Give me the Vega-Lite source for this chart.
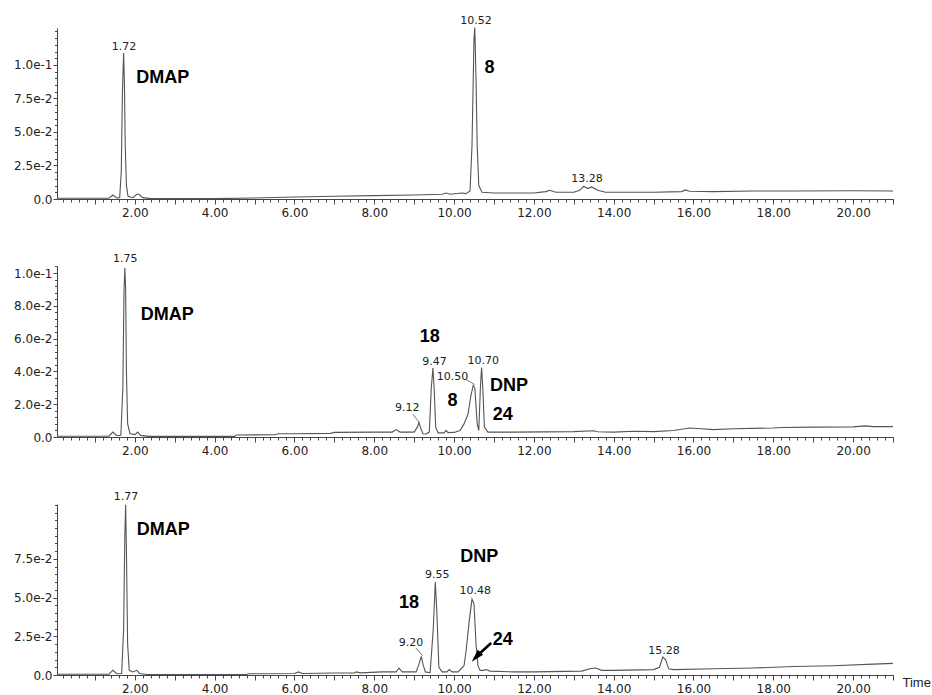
{
  "$schema": "https://vega.github.io/schema/vega-lite/v6.json",
  "background": "white",
  "padding": {"left": 13, "top": 15, "right": 0, "bottom": 2},
  "config": {
    "view": {"stroke": null},
    "axis": {"labelFont": "DejaVu Sans", "labelFontSize": 12, "labelColor": "#222", "domainColor": "#444", "tickColor": "#444", "grid": false, "title": null, "labelOverlap": false, "labelFlush": false, "domainWidth": 1, "tickWidth": 1}
  },
  "spacing": 67,
  "bounds": "flush",
  "datasets": {
    "p1": [
      {"t":0.05,"v":0.0006},{"t":1.0,"v":0.0006},{"t":1.35,"v":0.0006},{"t":1.45,"v":0.003},{"t":1.55,"v":0.0008},{"t":1.62,"v":0.001},{"t":1.66,"v":0.02},{"t":1.69,"v":0.08},{"t":1.72,"v":0.109},{"t":1.74,"v":0.085},{"t":1.76,"v":0.04},{"t":1.79,"v":0.01},{"t":1.83,"v":0.002},{"t":1.95,"v":0.001},{"t":2.05,"v":0.0035},{"t":2.1,"v":0.0035},{"t":2.2,"v":0.001},{"t":2.4,"v":0.0003},{"t":4.0,"v":0.0003},{"t":5.0,"v":0.0008},{"t":6.0,"v":0.0015},{"t":7.0,"v":0.002},{"t":8.0,"v":0.0025},{"t":9.0,"v":0.003},{"t":9.7,"v":0.0035},{"t":9.8,"v":0.0045},{"t":9.9,"v":0.0035},{"t":10.2,"v":0.0045},{"t":10.3,"v":0.004},{"t":10.4,"v":0.006},{"t":10.45,"v":0.04},{"t":10.5,"v":0.12},{"t":10.52,"v":0.128},{"t":10.55,"v":0.09},{"t":10.58,"v":0.04},{"t":10.62,"v":0.01},{"t":10.7,"v":0.005},{"t":11.0,"v":0.0045},{"t":12.0,"v":0.0045},{"t":12.3,"v":0.0055},{"t":12.4,"v":0.0065},{"t":12.55,"v":0.005},{"t":13.0,"v":0.005},{"t":13.15,"v":0.0065},{"t":13.25,"v":0.0095},{"t":13.35,"v":0.0078},{"t":13.45,"v":0.009},{"t":13.6,"v":0.0065},{"t":13.8,"v":0.005},{"t":15.0,"v":0.005},{"t":15.7,"v":0.0055},{"t":15.8,"v":0.0068},{"t":15.9,"v":0.0058},{"t":16.5,"v":0.0055},{"t":17.5,"v":0.006},{"t":18.5,"v":0.006},{"t":20.0,"v":0.0062},{"t":21.0,"v":0.006}
    ],
    "p2": [
      {"t":0.05,"v":0.0005},{"t":1.35,"v":0.0005},{"t":1.45,"v":0.003},{"t":1.55,"v":0.0008},{"t":1.65,"v":0.001},{"t":1.7,"v":0.03},{"t":1.73,"v":0.09},{"t":1.75,"v":0.103},{"t":1.77,"v":0.09},{"t":1.79,"v":0.04},{"t":1.82,"v":0.008},{"t":1.88,"v":0.002},{"t":2.0,"v":0.0015},{"t":2.07,"v":0.003},{"t":2.15,"v":0.001},{"t":2.35,"v":0.0004},{"t":4.5,"v":0.0004},{"t":4.55,"v":0.0012},{"t":5.5,"v":0.0014},{"t":5.6,"v":0.002},{"t":6.0,"v":0.002},{"t":6.9,"v":0.0022},{"t":7.0,"v":0.0028},{"t":8.0,"v":0.003},{"t":8.45,"v":0.003},{"t":8.55,"v":0.0045},{"t":8.65,"v":0.003},{"t":9.0,"v":0.003},{"t":9.08,"v":0.006},{"t":9.12,"v":0.0088},{"t":9.17,"v":0.005},{"t":9.22,"v":0.002},{"t":9.3,"v":0.0018},{"t":9.38,"v":0.003},{"t":9.43,"v":0.03},{"t":9.47,"v":0.042},{"t":9.5,"v":0.03},{"t":9.54,"v":0.006},{"t":9.6,"v":0.0025},{"t":9.75,"v":0.0025},{"t":9.8,"v":0.004},{"t":9.85,"v":0.0027},{"t":10.0,"v":0.0028},{"t":10.15,"v":0.004},{"t":10.25,"v":0.008},{"t":10.35,"v":0.014},{"t":10.42,"v":0.025},{"t":10.48,"v":0.0315},{"t":10.52,"v":0.03},{"t":10.58,"v":0.008},{"t":10.62,"v":0.004},{"t":10.66,"v":0.03},{"t":10.69,"v":0.0424},{"t":10.72,"v":0.03},{"t":10.76,"v":0.006},{"t":10.85,"v":0.003},{"t":11.5,"v":0.003},{"t":13.0,"v":0.0033},{"t":13.5,"v":0.0038},{"t":13.6,"v":0.0032},{"t":14.0,"v":0.003},{"t":14.5,"v":0.0035},{"t":15.0,"v":0.0033},{"t":15.5,"v":0.004},{"t":15.9,"v":0.0055},{"t":16.2,"v":0.005},{"t":16.5,"v":0.0045},{"t":17.0,"v":0.005},{"t":18.0,"v":0.0055},{"t":18.2,"v":0.0058},{"t":19.0,"v":0.006},{"t":20.0,"v":0.0062},{"t":20.3,"v":0.0068},{"t":20.5,"v":0.0063},{"t":21.0,"v":0.0063}
    ],
    "p3": [
      {"t":0.05,"v":0.0005},{"t":1.35,"v":0.0005},{"t":1.45,"v":0.003},{"t":1.55,"v":0.0008},{"t":1.67,"v":0.001},{"t":1.72,"v":0.03},{"t":1.75,"v":0.09},{"t":1.77,"v":0.11},{"t":1.79,"v":0.08},{"t":1.82,"v":0.02},{"t":1.86,"v":0.003},{"t":1.95,"v":0.002},{"t":2.05,"v":0.003},{"t":2.12,"v":0.001},{"t":2.3,"v":0.0003},{"t":4.8,"v":0.0003},{"t":4.85,"v":0.0008},{"t":6.0,"v":0.001},{"t":6.1,"v":0.002},{"t":6.2,"v":0.001},{"t":7.0,"v":0.0013},{"t":7.5,"v":0.0013},{"t":7.55,"v":0.002},{"t":7.65,"v":0.0014},{"t":8.2,"v":0.002},{"t":8.55,"v":0.002},{"t":8.62,"v":0.0045},{"t":8.7,"v":0.002},{"t":9.05,"v":0.002},{"t":9.12,"v":0.007},{"t":9.18,"v":0.012},{"t":9.22,"v":0.007},{"t":9.28,"v":0.002},{"t":9.4,"v":0.0015},{"t":9.48,"v":0.03},{"t":9.53,"v":0.06},{"t":9.57,"v":0.04},{"t":9.62,"v":0.005},{"t":9.7,"v":0.002},{"t":9.82,"v":0.002},{"t":9.88,"v":0.0035},{"t":9.95,"v":0.002},{"t":10.1,"v":0.002},{"t":10.25,"v":0.006},{"t":10.3,"v":0.015},{"t":10.38,"v":0.035},{"t":10.45,"v":0.049},{"t":10.5,"v":0.046},{"t":10.55,"v":0.02},{"t":10.6,"v":0.006},{"t":10.65,"v":0.003},{"t":10.75,"v":0.003},{"t":10.8,"v":0.0035},{"t":10.9,"v":0.0025},{"t":11.5,"v":0.002},{"t":12.0,"v":0.002},{"t":13.2,"v":0.0025},{"t":13.4,"v":0.004},{"t":13.55,"v":0.0045},{"t":13.7,"v":0.003},{"t":14.0,"v":0.003},{"t":15.0,"v":0.0035},{"t":15.15,"v":0.005},{"t":15.23,"v":0.0116},{"t":15.3,"v":0.01},{"t":15.38,"v":0.004},{"t":15.5,"v":0.0035},{"t":16.5,"v":0.004},{"t":17.5,"v":0.0045},{"t":18.5,"v":0.0055},{"t":19.5,"v":0.006},{"t":20.5,"v":0.007},{"t":21.0,"v":0.0075}
    ],
    "a1": [
      {"t":1.73,"v":0.1134,"label":"1.72","bold":0},
      {"t":10.55,"v":0.1328,"label":"10.52","bold":0},
      {"t":13.33,"v":0.0146,"label":"13.28","bold":0},
      {"t":2.70,"v":0.0903,"label":"DMAP","bold":1},
      {"t":10.89,"v":0.0978,"label":"8","bold":1}
    ],
    "a2": [
      {"t":1.76,"v":0.1085,"label":"1.75","bold":0},
      {"t":9.51,"v":0.0457,"label":"9.47","bold":0},
      {"t":9.96,"v":0.0363,"label":"10.50","bold":0},
      {"t":10.73,"v":0.0466,"label":"10.70","bold":0},
      {"t":8.83,"v":0.0174,"label":"9.12","bold":0},
      {"t":2.81,"v":0.0744,"label":"DMAP","bold":1},
      {"t":9.39,"v":0.061,"label":"18","bold":1},
      {"t":11.38,"v":0.0311,"label":"DNP","bold":1},
      {"t":9.96,"v":0.022,"label":"8","bold":1},
      {"t":11.22,"v":0.0137,"label":"24","bold":1}
    ],
    "a3": [
      {"t":1.78,"v":0.1151,"label":"1.77","bold":0},
      {"t":9.58,"v":0.0643,"label":"9.55","bold":0},
      {"t":10.53,"v":0.054,"label":"10.48","bold":0},
      {"t":8.92,"v":0.021,"label":"9.20","bold":0},
      {"t":15.26,"v":0.0155,"label":"15.28","bold":0},
      {"t":2.71,"v":0.0937,"label":"DMAP","bold":1},
      {"t":10.63,"v":0.0763,"label":"DNP","bold":1},
      {"t":8.87,"v":0.0465,"label":"18","bold":1},
      {"t":11.22,"v":0.0226,"label":"24","bold":1}
    ],
    "l2": [
      {"t":8.97,"v":0.0139,"t2":9.14,"v2":0.0085},
      {"t":10.30,"v":0.0351,"t2":10.52,"v2":0.032}
    ],
    "l3": [
      {"t":9.04,"v":0.0175,"t2":9.21,"v2":0.0125}
    ],
    "arrow": [
      {"t":10.93,"v":0.0207,"t2":10.58,"v2":0.0124}
    ],
    "head": [
      {"t":10.58,"v":0.0124}
    ]
  },
  "vconcat": [
    {
      "width": 836, "height": 171,
      "resolve": {"axis": {"x": "independent", "y": "independent"}},
      "layer": [
        {
          "data": {"name": "p1"},
          "mark": {"type": "line", "color": "#555", "strokeWidth": 1.1},
          "encoding": {
            "x": {"field": "t", "type": "quantitative", "scale": {"domain": [0.05, 21], "nice": false, "zero": false},
                  "axis": {"orient": "bottom", "values": [1,2,3,4,5,6,7,8,9,10,11,12,13,14,15,16,17,18,19,20,21], "tickSize": 5, "labelPadding": 3, "labelExpr": "datum.value % 2 == 0 ? format(datum.value, '.2f') : ''"}},
            "y": {"field": "v", "type": "quantitative", "scale": {"domain": [0, 0.1276], "nice": false, "zero": false},
                  "axis": {"orient": "left", "values": [0, 0.025, 0.05, 0.075, 0.1], "tickSize": 4, "labelPadding": 1, "labelExpr": "datum.value == 0 ? '0.0' : format(datum.value, '.1e')"}}
          }
        },
        {
          "data": {"name": "a1"},
          "transform": [{"filter": "datum.bold == 0"}],
          "mark": {"type": "text", "font": "DejaVu Sans", "fontSize": 11, "color": "#222", "align": "center", "baseline": "middle"},
          "encoding": {
            "x": {"field": "t", "type": "quantitative", "scale": {"domain": [0.05, 21], "nice": false, "zero": false}, "axis": null},
            "y": {"field": "v", "type": "quantitative", "scale": {"domain": [0, 0.1276], "nice": false, "zero": false}, "axis": null},
            "text": {"field": "label"}
          }
        },
        {
          "data": {"name": "a1"},
          "transform": [{"filter": "datum.bold == 1"}],
          "mark": {"type": "text", "font": "Liberation Sans", "fontWeight": "bold", "fontSize": 18, "color": "#000", "align": "center", "baseline": "middle"},
          "encoding": {
            "x": {"field": "t", "type": "quantitative", "scale": {"domain": [0.05, 21], "nice": false, "zero": false},
                  "axis": {"orient": "bottom", "values": [0.2,0.4,0.6,0.8,1,1.2,1.4,1.6,1.8,2,2.2,2.4,2.6,2.8,3,3.2,3.4,3.6,3.8,4,4.2,4.4,4.6,4.8,5,5.2,5.4,5.6,5.8,6,6.2,6.4,6.6,6.8,7,7.2,7.4,7.6,7.8,8,8.2,8.4,8.6,8.8,9,9.2,9.4,9.6,9.8,10,10.2,10.4,10.6,10.8,11,11.2,11.4,11.6,11.8,12,12.2,12.4,12.6,12.8,13,13.2,13.4,13.6,13.8,14,14.2,14.4,14.6,14.8,15,15.2,15.4,15.6,15.8,16,16.2,16.4,16.6,16.8,17,17.2,17.4,17.6,17.8,18,18.2,18.4,18.6,18.8,19,19.2,19.4,19.6,19.8,20,20.2,20.4,20.6,20.8,21], "tickSize": 3, "labels": false, "domain": false}},
            "y": {"field": "v", "type": "quantitative", "scale": {"domain": [0, 0.1276], "nice": false, "zero": false},
                  "axis": {"orient": "left", "values": [0.005,0.01,0.015,0.02,0.025,0.03,0.035,0.04,0.045,0.05,0.055,0.06,0.065,0.07,0.075,0.08,0.085,0.09,0.095,0.1,0.105,0.11,0.115,0.12,0.125], "tickSize": 2.5, "labels": false, "domain": false}},
            "text": {"field": "label"}
          }
        }
      ]
    },
    {
      "width": 836, "height": 171,
      "resolve": {"axis": {"x": "independent", "y": "independent"}},
      "layer": [
        {
          "data": {"name": "p2"},
          "mark": {"type": "line", "color": "#555", "strokeWidth": 1.1},
          "encoding": {
            "x": {"field": "t", "type": "quantitative", "scale": {"domain": [0.05, 21], "nice": false, "zero": false},
                  "axis": {"orient": "bottom", "values": [1,2,3,4,5,6,7,8,9,10,11,12,13,14,15,16,17,18,19,20,21], "tickSize": 5, "labelPadding": 3, "labelExpr": "datum.value % 2 == 0 ? format(datum.value, '.2f') : ''"}},
            "y": {"field": "v", "type": "quantitative", "scale": {"domain": [0, 0.1043], "nice": false, "zero": false},
                  "axis": {"orient": "left", "values": [0, 0.02, 0.04, 0.06, 0.08, 0.1], "tickSize": 4, "labelPadding": 1, "labelExpr": "datum.value == 0 ? '0.0' : format(datum.value, '.1e')"}}
          }
        },
        {
          "data": {"name": "l2"},
          "mark": {"type": "rule", "color": "#555", "strokeWidth": 0.8},
          "encoding": {
            "x": {"field": "t", "type": "quantitative", "scale": {"domain": [0.05, 21], "nice": false, "zero": false}, "axis": null},
            "y": {"field": "v", "type": "quantitative", "scale": {"domain": [0, 0.1043], "nice": false, "zero": false}, "axis": null},
            "x2": {"field": "t2"},
            "y2": {"field": "v2"}
          }
        },
        {
          "data": {"name": "a2"},
          "transform": [{"filter": "datum.bold == 0"}],
          "mark": {"type": "text", "font": "DejaVu Sans", "fontSize": 11, "color": "#222", "align": "center", "baseline": "middle"},
          "encoding": {
            "x": {"field": "t", "type": "quantitative", "scale": {"domain": [0.05, 21], "nice": false, "zero": false}, "axis": null},
            "y": {"field": "v", "type": "quantitative", "scale": {"domain": [0, 0.1043], "nice": false, "zero": false}, "axis": null},
            "text": {"field": "label"}
          }
        },
        {
          "data": {"name": "a2"},
          "transform": [{"filter": "datum.bold == 1"}],
          "mark": {"type": "text", "font": "Liberation Sans", "fontWeight": "bold", "fontSize": 18, "color": "#000", "align": "center", "baseline": "middle"},
          "encoding": {
            "x": {"field": "t", "type": "quantitative", "scale": {"domain": [0.05, 21], "nice": false, "zero": false},
                  "axis": {"orient": "bottom", "values": [0.2,0.4,0.6,0.8,1,1.2,1.4,1.6,1.8,2,2.2,2.4,2.6,2.8,3,3.2,3.4,3.6,3.8,4,4.2,4.4,4.6,4.8,5,5.2,5.4,5.6,5.8,6,6.2,6.4,6.6,6.8,7,7.2,7.4,7.6,7.8,8,8.2,8.4,8.6,8.8,9,9.2,9.4,9.6,9.8,10,10.2,10.4,10.6,10.8,11,11.2,11.4,11.6,11.8,12,12.2,12.4,12.6,12.8,13,13.2,13.4,13.6,13.8,14,14.2,14.4,14.6,14.8,15,15.2,15.4,15.6,15.8,16,16.2,16.4,16.6,16.8,17,17.2,17.4,17.6,17.8,18,18.2,18.4,18.6,18.8,19,19.2,19.4,19.6,19.8,20,20.2,20.4,20.6,20.8,21], "tickSize": 3, "labels": false, "domain": false}},
            "y": {"field": "v", "type": "quantitative", "scale": {"domain": [0, 0.1043], "nice": false, "zero": false},
                  "axis": {"orient": "left", "values": [0.004,0.008,0.012,0.016,0.02,0.024,0.028,0.032,0.036,0.04,0.044,0.048,0.052,0.056,0.06,0.064,0.068,0.072,0.076,0.08,0.084,0.088,0.092,0.096,0.1,0.104], "tickSize": 2.5, "labels": false, "domain": false}},
            "text": {"field": "label"}
          }
        }
      ]
    },
    {
      "width": 836, "height": 171,
      "resolve": {"axis": {"x": "independent", "y": "independent"}},
      "layer": [
        {
          "data": {"name": "p3"},
          "mark": {"type": "line", "color": "#555", "strokeWidth": 1.1},
          "encoding": {
            "x": {"field": "t", "type": "quantitative", "scale": {"domain": [0.05, 21], "nice": false, "zero": false},
                  "axis": {"orient": "bottom", "values": [1,2,3,4,5,6,7,8,9,10,11,12,13,14,15,16,17,18,19,20,21], "tickSize": 5, "labelPadding": 3, "labelExpr": "datum.value % 2 == 0 ? format(datum.value, '.2f') : ''",
                           "title": "Time", "titleFont": "Liberation Sans", "titleFontSize": 13, "titleFontWeight": "normal", "titleColor": "#222", "titleAngle": 0, "titleAlign": "left", "titleBaseline": "middle", "titleX": 845, "titleY": 7}},
            "y": {"field": "v", "type": "quantitative", "scale": {"domain": [0, 0.1105], "nice": false, "zero": false},
                  "axis": {"orient": "left", "values": [0, 0.025, 0.05, 0.075], "tickSize": 4, "labelPadding": 1, "labelExpr": "datum.value == 0 ? '0.0' : format(datum.value, '.1e')"}}
          }
        },
        {
          "data": {"name": "l3"},
          "mark": {"type": "rule", "color": "#555", "strokeWidth": 0.8},
          "encoding": {
            "x": {"field": "t", "type": "quantitative", "scale": {"domain": [0.05, 21], "nice": false, "zero": false}, "axis": null},
            "y": {"field": "v", "type": "quantitative", "scale": {"domain": [0, 0.1105], "nice": false, "zero": false}, "axis": null},
            "x2": {"field": "t2"},
            "y2": {"field": "v2"}
          }
        },
        {
          "data": {"name": "arrow"},
          "mark": {"type": "rule", "color": "#000", "strokeWidth": 2.6},
          "encoding": {
            "x": {"field": "t", "type": "quantitative", "scale": {"domain": [0.05, 21], "nice": false, "zero": false}, "axis": null},
            "y": {"field": "v", "type": "quantitative", "scale": {"domain": [0, 0.1105], "nice": false, "zero": false}, "axis": null},
            "x2": {"field": "t2"},
            "y2": {"field": "v2"}
          }
        },
        {
          "data": {"name": "head"},
          "mark": {"type": "point", "shape": "M0,-1L0.45,0.6L-0.45,0.6Z", "size": 256, "filled": true, "color": "#000", "opacity": 1, "angle": 223},
          "encoding": {
            "x": {"field": "t", "type": "quantitative", "scale": {"domain": [0.05, 21], "nice": false, "zero": false}, "axis": null},
            "y": {"field": "v", "type": "quantitative", "scale": {"domain": [0, 0.1105], "nice": false, "zero": false}, "axis": null}
          }
        },
        {
          "data": {"name": "a3"},
          "transform": [{"filter": "datum.bold == 0"}],
          "mark": {"type": "text", "font": "DejaVu Sans", "fontSize": 11, "color": "#222", "align": "center", "baseline": "middle"},
          "encoding": {
            "x": {"field": "t", "type": "quantitative", "scale": {"domain": [0.05, 21], "nice": false, "zero": false}, "axis": null},
            "y": {"field": "v", "type": "quantitative", "scale": {"domain": [0, 0.1105], "nice": false, "zero": false}, "axis": null},
            "text": {"field": "label"}
          }
        },
        {
          "data": {"name": "a3"},
          "transform": [{"filter": "datum.bold == 1"}],
          "mark": {"type": "text", "font": "Liberation Sans", "fontWeight": "bold", "fontSize": 18, "color": "#000", "align": "center", "baseline": "middle"},
          "encoding": {
            "x": {"field": "t", "type": "quantitative", "scale": {"domain": [0.05, 21], "nice": false, "zero": false},
                  "axis": {"orient": "bottom", "values": [0.2,0.4,0.6,0.8,1,1.2,1.4,1.6,1.8,2,2.2,2.4,2.6,2.8,3,3.2,3.4,3.6,3.8,4,4.2,4.4,4.6,4.8,5,5.2,5.4,5.6,5.8,6,6.2,6.4,6.6,6.8,7,7.2,7.4,7.6,7.8,8,8.2,8.4,8.6,8.8,9,9.2,9.4,9.6,9.8,10,10.2,10.4,10.6,10.8,11,11.2,11.4,11.6,11.8,12,12.2,12.4,12.6,12.8,13,13.2,13.4,13.6,13.8,14,14.2,14.4,14.6,14.8,15,15.2,15.4,15.6,15.8,16,16.2,16.4,16.6,16.8,17,17.2,17.4,17.6,17.8,18,18.2,18.4,18.6,18.8,19,19.2,19.4,19.6,19.8,20,20.2,20.4,20.6,20.8,21], "tickSize": 3, "labels": false, "domain": false}},
            "y": {"field": "v", "type": "quantitative", "scale": {"domain": [0, 0.1105], "nice": false, "zero": false},
                  "axis": {"orient": "left", "values": [0.005,0.01,0.015,0.02,0.025,0.03,0.035,0.04,0.045,0.05,0.055,0.06,0.065,0.07,0.075,0.08,0.085,0.09,0.095,0.1,0.105,0.11], "tickSize": 2.5, "labels": false, "domain": false}},
            "text": {"field": "label"}
          }
        }
      ]
    }
  ]
}
